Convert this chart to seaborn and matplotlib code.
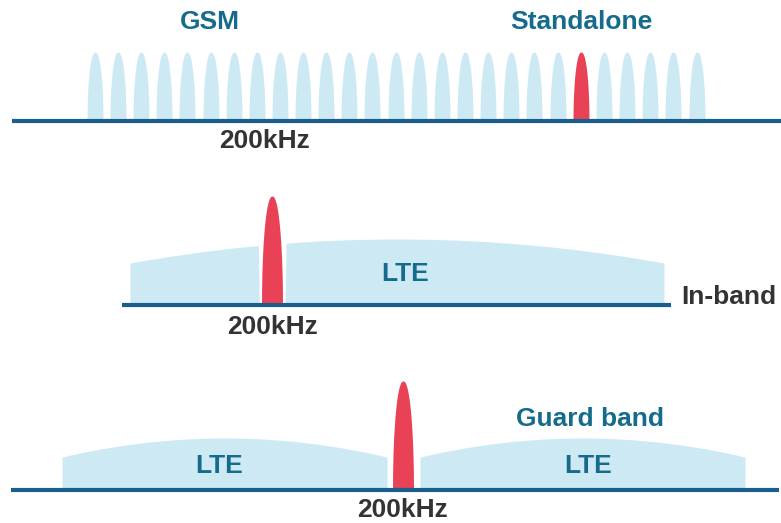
import numpy as np
import matplotlib
matplotlib.use("Agg")
import matplotlib.pyplot as plt
import seaborn as sns

# GSM carriers (x centre of each 200kHz channel), red one = NB-IoT standalone
gsm_centers = [95, 118, 141, 164, 187, 211, 234, 257, 280, 303, 326, 349, 372, 396,
               419, 442, 465, 488, 511, 534, 558, 581, 604, 627, 650, 673, 697]
nbiot_index = 21

# baselines: (y, x start, x end)
baselines = [(121, 12, 781), (305, 122, 671), (490, 11, 779)]

# LTE blocks: (left, right, edge top, peak top, baseline)
lte_blocks = [(130, 664, 263, 239, 305),
              (62, 387, 457, 438, 490),
              (420, 745, 457, 438, 490)]
# white cut around the in-band carrier (first block only)
lte_gaps = [(259, 286), None, None]

# NB-IoT carriers in panel 2 and 3: (centre, width, top, baseline)
nbiot_carriers = [(272, 21, 196, 305), (403, 21, 381, 490)]

# labels: (text, x, y, colour key)
labels = [("GSM", 210, 22, "teal"), ("Standalone", 581, 22, "teal"),
          ("200kHz", 265, 141, "gray"),
          ("LTE", 405, 274, "teal"), ("In-band", 729, 297, "gray"),
          ("200kHz", 273, 327, "gray"),
          ("Guard band", 590, 419, "teal"),
          ("LTE", 219, 466, "teal"), ("LTE", 588, 466, "teal"),
          ("200kHz", 402, 510, "gray")]

colors = {"teal": "#156b8b", "gray": "#333333"}
light_blue = "#cdeaf4"
red = "#e94256"
line_blue = "#1a5e8e"

sns.set_style("white")
plt.rcParams['font.family'] = ['Liberation Sans', 'DejaVu Sans']


def bump(ax, c, w, top, base, color):
    t = np.linspace(-1, 1, 300)
    prof = (1 - np.abs(t) ** 2.2) ** 0.5
    x = c + t * w / 2
    ax.fill_between(x, base, base - prof * (base - top), color=color, lw=0, zorder=2)


fig = plt.figure(figsize=(7.81, 5.23), dpi=100)
ax = fig.add_axes([0, 0, 1, 1])
ax.set_xlim(0, 781)
ax.set_ylim(523, 0)
ax.axis("off")

# panel 1: GSM channels
for i, c in enumerate(gsm_centers):
    bump(ax, c, 16, 52, 121, red if i == nbiot_index else light_blue)

# LTE domes
for (left, right, edge, peak, base), gap in zip(lte_blocks, lte_gaps):
    x = np.linspace(left, right, 600)
    mid = (left + right) / 2
    half = (right - left) / 2
    top = edge - (edge - peak) * (1 - ((x - mid) / half) ** 2)
    if gap is not None:
        top = np.where((x > gap[0]) & (x < gap[1]), base, top)
    ax.fill_between(x, base, top, color=light_blue, lw=0, zorder=1)

for c, w, top, base in nbiot_carriers:
    bump(ax, c, w, top, base, red)

for y, x0, x1 in baselines:
    ax.plot([x0, x1], [y, y], color=line_blue, lw=3, solid_capstyle="butt", zorder=3)

for text, x, y, key in labels:
    ax.text(x, y, text, ha="center", va="center", fontsize=19,
            fontweight="bold", color=colors[key])

fig.savefig("out.png", dpi=100)
